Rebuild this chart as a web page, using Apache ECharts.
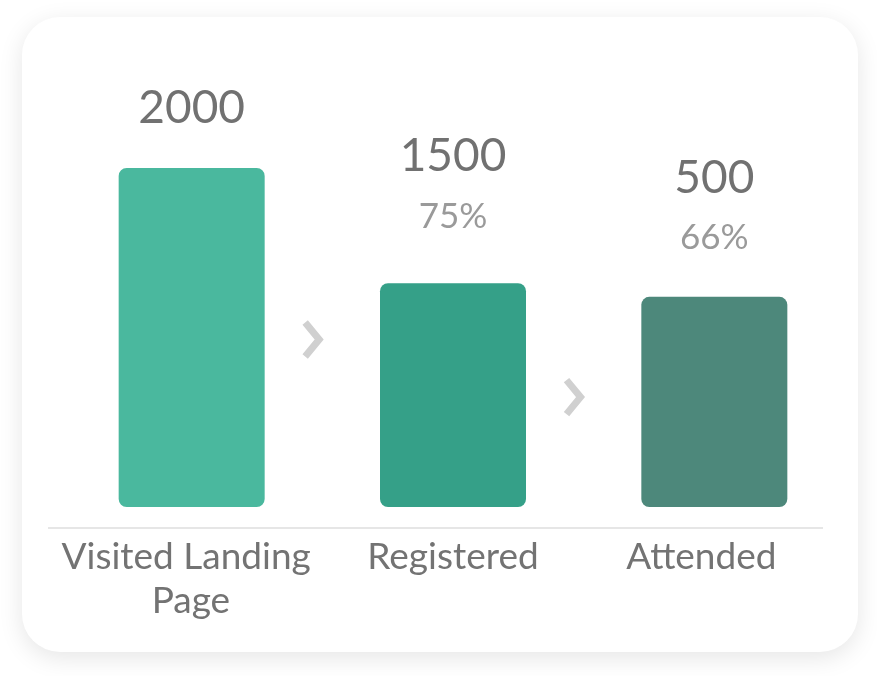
<!DOCTYPE html>
<html><head><meta charset="utf-8">
<script src="https://cdn.jsdelivr.net/npm/echarts@6/dist/echarts.min.js"></script>
<style>html,body{margin:0;padding:0;background:#fff;} #chart{width:877px;height:676px;}</style>
</head><body><div id="chart"></div>
<script>
// Funnel stages
const categories = ['Visited Landing Page', 'Registered', 'Attended'];
const counts = [2000, 1500, 500];
const conversionRates = [null, 75, 66];       // % shown under counts
const barHeights = [100, 66, 62];             // relative bar heights as drawn in the picture
const barColors = ['#4AB89E', '#35A088', '#4D887B'];

// styling helpers (not data)
const labelDistances = [30, 37, 29];
const labelPadRight = [11, 0, 26];

const chart = echarts.init(document.getElementById('chart'), null, {renderer: 'canvas'});
const option = {
  animation: false,
  backgroundColor: 'transparent',
  textStyle: {fontFamily: 'Lato'},
  grid: {left: 61, right: 32, top: 168, bottom: 148},
  xAxis: {
    type: 'category',
    data: categories.map((c, i) => ({value: c, textStyle: {padding: [0, labelPadRight[i], 0, 0]}})),
    axisLine: {show: false}, axisTick: {show: false},
    axisLabel: {fontSize: 37, lineHeight: 44, color: '#737373', margin: 7, width: 255, overflow: 'break', fontFamily: 'Lato', interval: 0}
  },
  yAxis: {type: 'value', min: -6.2, max: 100, show: false, splitLine: {show: false}},
  series: [{
    type: 'bar', barWidth: 146,
    data: barHeights.map((h, i) => ({value: h, itemStyle: {color: barColors[i]}, label: {distance: labelDistances[i]}})),
    itemStyle: {borderRadius: 8},
    label: {
      show: true, position: 'top',
      formatter: p => '{v|' + counts[p.dataIndex] + '}' + (conversionRates[p.dataIndex] != null ? '\n{p|' + conversionRates[p.dataIndex] + '%}' : ''),
      rich: {
        v: {fontSize: 46, lineHeight: 60, color: '#717171', fontFamily: 'Lato'},
        p: {fontSize: 35, lineHeight: 60, color: '#9a9a9a', fontFamily: 'Lato'}
      }
    }
  }]
};
chart.setOption(option);

const graphics = [
  {id: 'card', type: 'rect', z: -10, silent: true,
   shape: {x: 22, y: 17, width: 836, height: 635, r: 38},
   style: {fill: '#fff', shadowBlur: 24, shadowColor: 'rgba(0,0,0,0.10)', shadowOffsetY: 6}},
  {id: 'baseline', type: 'line', z: 1, silent: true,
   shape: {x1: 48, y1: 528, x2: 823, y2: 528},
   style: {stroke: '#e6e6e6', lineWidth: 2}}
];
for (let i = 0; i < categories.length - 1; i++) {
  const pt = chart.convertToPixel({seriesIndex: 0}, [i, barHeights[i] / 2]);
  const x = pt[0] + 146 / 2 + 48, y = pt[1] + 2;
  graphics.push({id: 'chev' + i, type: 'polyline', z: 1, silent: true,
    shape: {points: [[x - 7.5, y - 17], [x + 6.5, y], [x - 7.5, y + 17]]},
    style: {stroke: '#d0d0d0', lineWidth: 7, fill: null, lineJoin: 'miter'}});
}
chart.setOption({graphic: graphics});
</script></body></html>
